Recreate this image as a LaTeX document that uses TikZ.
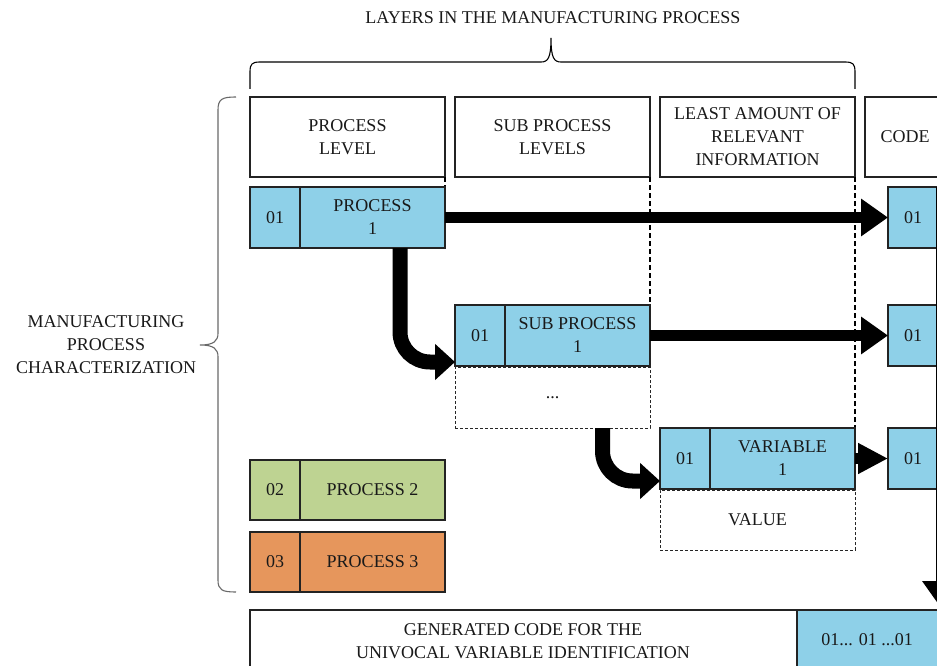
\documentclass[tikz,border=0pt]{standalone}
\usepackage{fontspec}
\setmainfont{Liberation Serif}
\usetikzlibrary{arrows.meta,calc}
\definecolor{boxblue}{RGB}{142,208,232}
\definecolor{boxgreen}{RGB}{190,211,146}
\definecolor{boxorange}{RGB}{230,150,92}
\definecolor{edge}{RGB}{35,35,35}
\definecolor{bracegray}{RGB}{105,105,105}
\definecolor{ink}{RGB}{25,25,25}

\begin{document}
\begin{tikzpicture}[x=1pt,y=-1pt,
  every node/.style={font=\fontsize{18}{23}\selectfont, text=ink, inner sep=0pt, outer sep=0pt},
  cell/.style={draw=edge, line width=1.1pt, minimum height=61pt, anchor=north west, align=center},
  head/.style={cell, fill=white, minimum height=80pt, minimum width=195pt},
  idcell/.style={cell, minimum width=50pt},
  namecell/.style={cell, minimum width=145pt, anchor=west},
  colsep/.style={draw=black, line width=1.4pt, dash pattern=on 5pt off 3pt},
  openbox/.style={draw=black!85, line width=0.9pt, dash pattern=on 3pt off 2pt},
  flow/.style={line width=11pt, -{Triangle[length=27pt,width=36pt]}},
  bendflow/.style={line width=15pt, rounded corners=30pt, -{Triangle[length=20pt,width=35pt]}},
  bracket/.style={line width=1.1pt},
]
\useasboundingbox (0,0) rectangle (937,666);
\clip (0,0) rectangle (937,666);
\fill[white] (0,0) rectangle (937,666);

% ---- titles and braces ----
\node (layers) at (553,18) {LAYERS IN THE MANUFACTURING PROCESS};
\draw[bracket, draw=black] (250,89) -- (250,72) .. controls (250,64) and (252,62) .. (260,62)
  -- (541,62) .. controls (548,62) and (551,58) .. (551,38)
  .. controls (551,58) and (554,62) .. (561,62) -- (845,62)
  .. controls (853,62) and (855,64) .. (855,72) -- (855,89);

\node[align=center] (charac) at (106,345) {MANUFACTURING\\PROCESS\\CHARACTERIZATION};
\draw[bracket, draw=bracegray] (236,97) .. controls (222,97) and (218,99) .. (218,110)
  -- (218,333) .. controls (218,341) and (214,345) .. (200,345)
  .. controls (214,345) and (218,349) .. (218,357) -- (218,580)
  .. controls (218,590) and (222,592) .. (236,592);

% ---- column headers ----
\node[head] (hproc) at (250,97) {PROCESS\\LEVEL};
\node[head] (hsub) at (455,97) {SUB PROCESS\\LEVELS};
\node[head] (hleast) at (660,97) {LEAST AMOUNT OF\\RELEVANT\\INFORMATION};
\node[head, minimum width=80pt] (hcode) at (865,97) {CODE};

% ---- column separators ----
\draw[colsep] (hproc.south east) -- ++(0,10);
\draw[colsep] (hsub.south east) -- ++(0,128);
\draw[colsep] (hleast.south east) -- ++(0,251);

% ---- process level ----
\node[idcell, fill=boxblue] (p1id) at (250,187) {01};
\node[namecell, fill=boxblue] (p1) at (p1id.east) {PROCESS\\1};
\node[idcell, fill=boxgreen, minimum height=60pt] (p2id) at (250,460) {02};
\node[namecell, fill=boxgreen, minimum height=60pt] (p2) at (p2id.east) {PROCESS 2};
\node[idcell, fill=boxorange, minimum height=60pt] (p3id) at (250,532) {03};
\node[namecell, fill=boxorange, minimum height=60pt] (p3) at (p3id.east) {PROCESS 3};

% ---- sub process level ----
\node[cell, openbox, minimum width=195pt, minimum height=61pt] (dots) at (455,367) {...};
\node[idcell, fill=boxblue] (sid) at (455,305) {01};
\node[namecell, fill=boxblue] (sub) at (sid.east) {SUB PROCESS\\1};

% ---- variable level ----
\node[cell, openbox, minimum width=195pt, minimum height=60pt] (value) at (660,490) {VALUE};
\node[idcell, fill=boxblue] (vid) at (660,428) {01};
\node[namecell, fill=boxblue] (var) at (vid.east) {VARIABLE\\1};

% ---- code column ----
\node[idcell, fill=boxblue, minimum width=50pt] (c1) at (888,187) {01};
\node[idcell, fill=boxblue, minimum width=50pt] (c2) at (888,305) {01};
\node[idcell, fill=boxblue, minimum width=50pt] (c3) at (888,428) {01};

% ---- generated code ----
\node[cell, fill=white, minimum width=547pt, minimum height=70pt] (gen) at (250,610) {};
\node[align=center] (gentext) at (523,641) {GENERATED CODE FOR THE\\UNIVOCAL VARIABLE IDENTIFICATION};
\node[cell, fill=boxblue, minimum width=150pt, minimum height=70pt] (gencode) at (797,610) {};
\node (gencodetext) at (867,640) {01... 01 ...01};

% ---- connectors ----
\draw[flow] (p1.east) -- (c1.west);
\draw[flow] (sub.east) -- (c2.west);
\draw[flow, -{Triangle[length=30pt,width=29pt]}] (var.east) -- (c3.west);
\draw[bendflow] ($(p1.south)+(27.5,0)$) |- ($(sid.south west)+(0,-4)$);
\draw[bendflow] ($(dots.south)+(50,0)$) |- ($(vid.south west)+(0,-8)$);
\coordinate (codedown) at (941,187);
\coordinate (codeend) at (941,608);
\draw[flow] (codedown) -- (codeend);
\end{tikzpicture}
\end{document}
